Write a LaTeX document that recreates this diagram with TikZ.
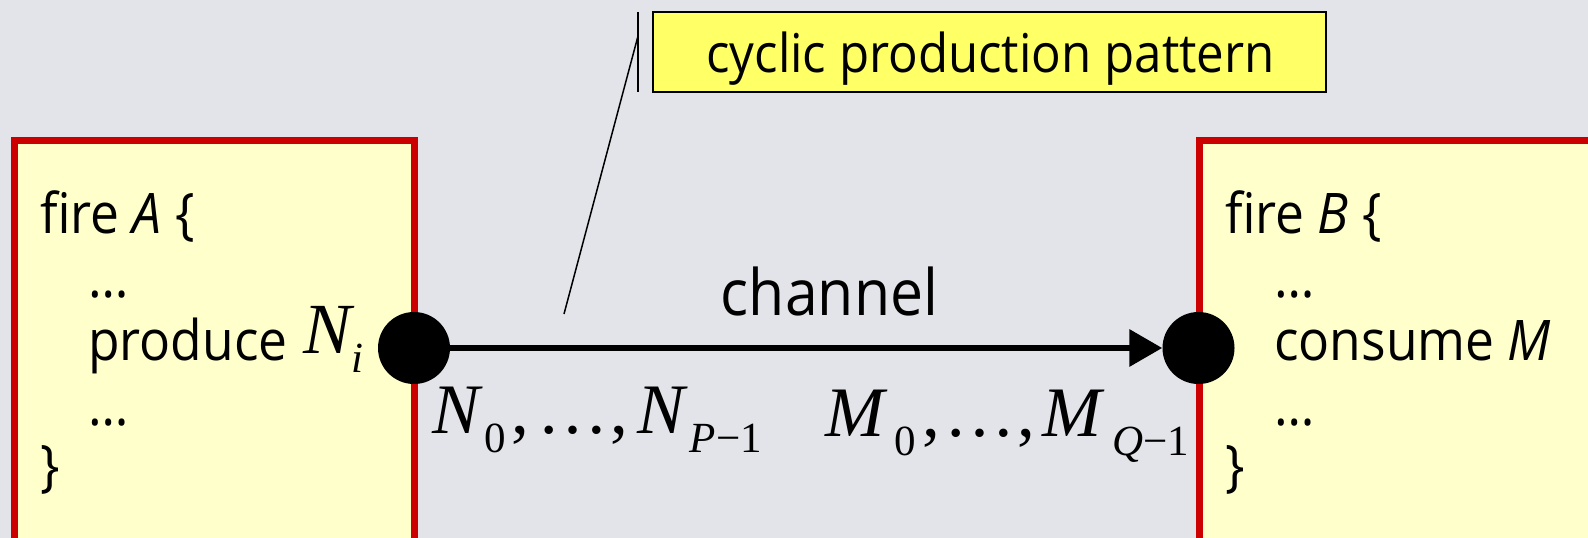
\documentclass[tikz,border=0pt]{standalone}
\usepackage{fontspec}
\newfontfamily\cs[FakeStretch=0.92]{Open Sans}
\newfontfamily\tms{Liberation Serif}
\usetikzlibrary{arrows.meta}
\definecolor{bg}{RGB}{227,228,233}
\definecolor{boxfill}{RGB}{255,255,204}
\definecolor{boxred}{RGB}{204,0,0}
\definecolor{callfill}{RGB}{255,255,102}
\tikzset{
  actor/.style={fill=boxfill,draw=boxred,line width=7pt},
  port/.style={circle,fill=black,inner sep=0pt,minimum size=72pt},
  code/.style={anchor=base west,inner sep=0pt,font=\cs\fontsize{56}{56}\selectfont},
  mathlab/.style={anchor=base west,inner sep=0pt,font=\tms\fontsize{71}{71}\selectfont},
  calloutline/.style={draw=black,line width=1.5pt},
}
\newcommand{\lowsub}[1]{\raisebox{-19pt}{\fontsize{43}{43}\selectfont #1}}
\begin{document}
\begin{tikzpicture}[x=1pt,y=-1pt]
\useasboundingbox (0,0) rectangle (1588,538);
\fill[bg] (0,0) rectangle (1588,538);
\clip (0,0) rectangle (1588,538);
% actor boxes
\draw[actor] (14.5,140) rectangle (414.5,560);
\draw[actor] (1199,140) rectangle (1600,560);
% left code
\node[code] (a1) at (40,233) {fire \textit{A} \{};
\node[code] (a2) at (88,297) {…};
\node[code] (a3) at (88,360) {produce};
\node[mathlab,font=\tms\fontsize{72}{72}\selectfont] (ni) at (303,353) {\itshape N\lowsub{i}};
\node[code] (a4) at (88,425) {…};
\node[code] (a5) at (40,485) {\}};
% right code
\node[code] (b1) at (1225,233) {fire \textit{B} \{};
\node[code] (b2) at (1274,297) {…};
\node[code] (b3) at (1274,360) {consume \textit{M}};
\node[code] (b4) at (1274,425) {…};
\node[code] (b5) at (1225,485) {\}};
% ports and channel
\node[port] (pA) at (414,348) {};
\node[port] (pB) at (1198.5,348) {};
\draw[line width=6.5pt,-{Triangle[length=33pt,width=36pt]}] (pA) -- (pB);
\node[code,anchor=base,font=\cs\fontsize{64}{64}\selectfont] (ch) at (829.5,315) {channel};
% rate labels
\node[mathlab] (nl) at (432,433) {\itshape N\kern5pt\lowsub{\upshape 0}\kern5pt\upshape ,\kern9pt…\kern2pt,\kern9pt\itshape N\kern5pt\lowsub{\itshape P\upshape −1}};
\node[mathlab] (ml) at (825,436) {\itshape M\kern10pt\lowsub{\upshape 0}\kern7pt\upshape ,\kern4pt…\kern2pt,\kern7pt\itshape M\kern11pt\lowsub{\itshape Q\upshape −1}};
% callout
\node[calloutline,fill=callfill,minimum width=673pt,minimum height=80pt,inner sep=0pt] (call) at (989.5,52) {};
\node[anchor=base,inner sep=0pt,font=\cs\fontsize{53.5}{53.5}\selectfont] (calltext) at (990.5,72) {cyclic production pattern};
\coordinate (barT) at (638,12);
\coordinate (barB) at (638,92);
\coordinate (barM) at (638,36);
\coordinate (tip) at (564,314);
\draw[calloutline] (barT) -- (barB);
\draw[calloutline] (barM) -- (tip);
\end{tikzpicture}
\end{document}
